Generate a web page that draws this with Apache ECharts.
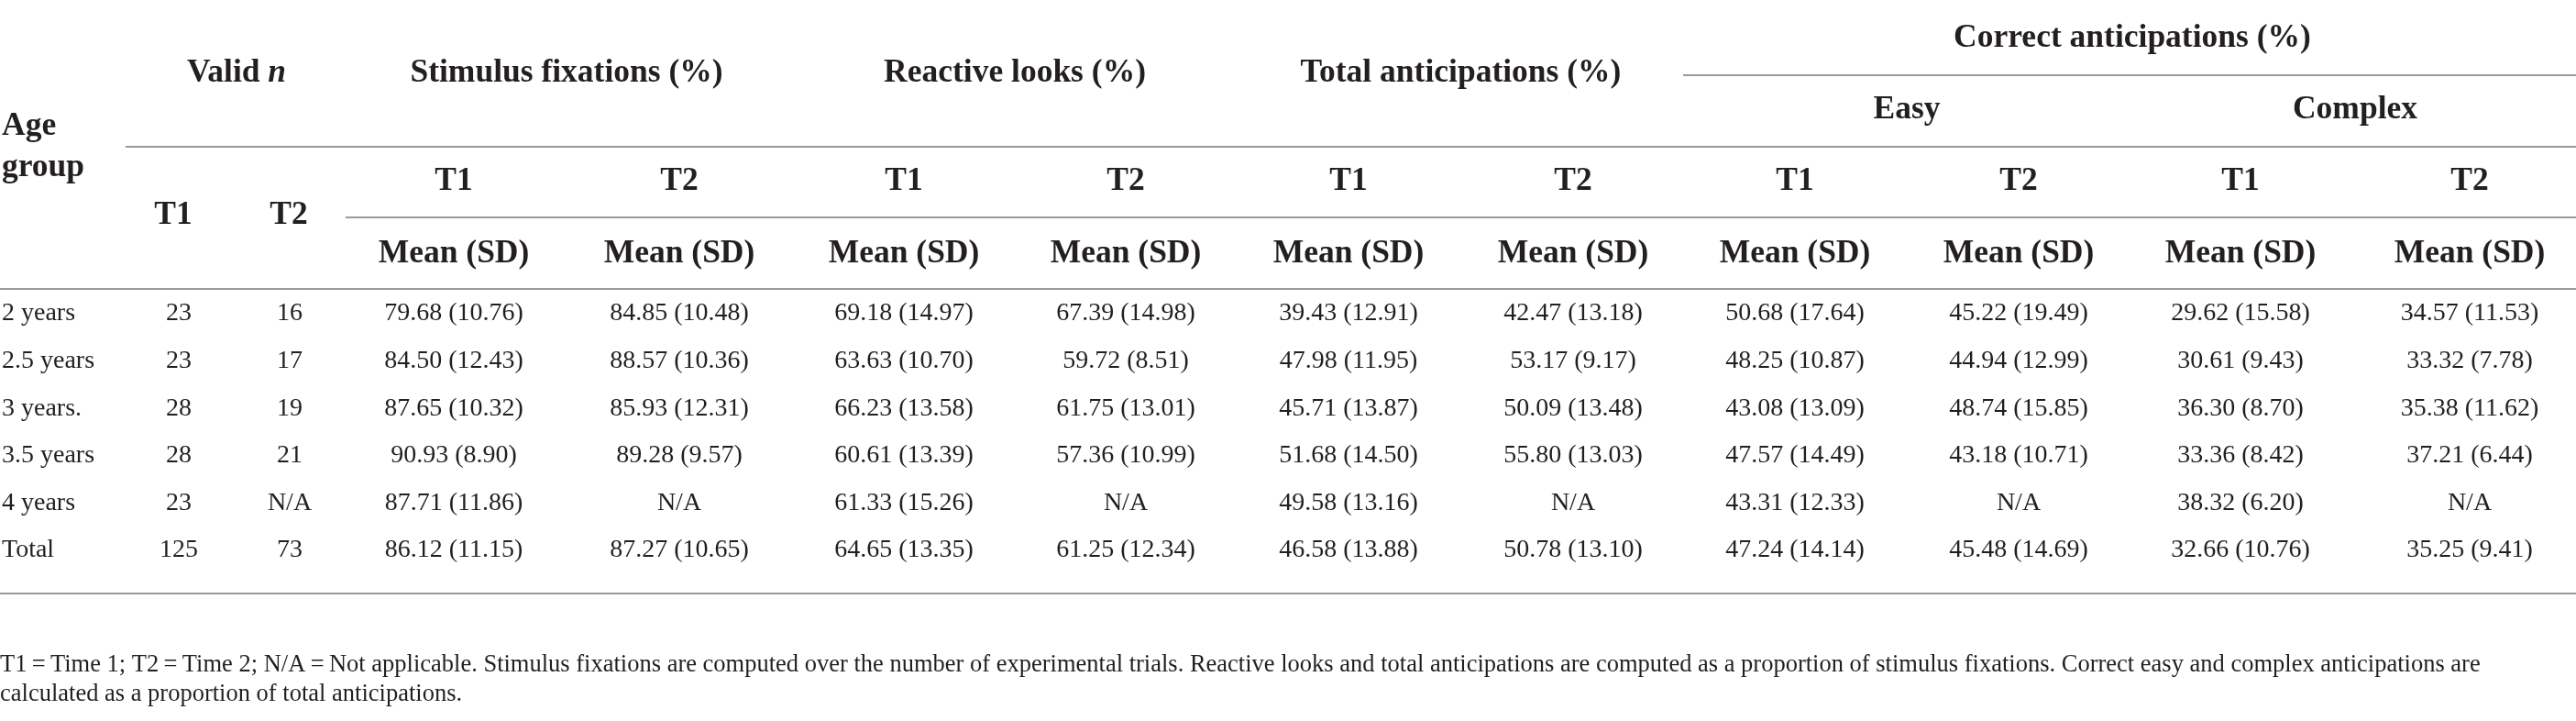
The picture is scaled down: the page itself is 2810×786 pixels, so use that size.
<!DOCTYPE html>
<html><head><meta charset="utf-8">
<script src="https://cdn.jsdelivr.net/npm/echarts@6/dist/echarts.min.js"></script>
<style>html,body{margin:0;padding:0;background:#fff;overflow:hidden}#c{width:2810px;height:786px}</style>
</head><body><div id="c"></div>
<script>
// ---------------- data ----------------
const ageGroups = ['2 years', '2.5 years', '3 years.', '3.5 years', '4 years', 'Total'];
const validT1 = [23, 23, 28, 28, 23, 125];
const validT2 = [16, 17, 19, 21, null, 73];
const stimT1Mean = [79.68, 84.50, 87.65, 90.93, 87.71, 86.12];
const stimT1SD   = [10.76, 12.43, 10.32, 8.90, 11.86, 11.15];
const stimT2Mean = [84.85, 88.57, 85.93, 89.28, null, 87.27];
const stimT2SD   = [10.48, 10.36, 12.31, 9.57, null, 10.65];
const reactT1Mean = [69.18, 63.63, 66.23, 60.61, 61.33, 64.65];
const reactT1SD   = [14.97, 10.70, 13.58, 13.39, 15.26, 13.35];
const reactT2Mean = [67.39, 59.72, 61.75, 57.36, null, 61.25];
const reactT2SD   = [14.98, 8.51, 13.01, 10.99, null, 12.34];
const totalT1Mean = [39.43, 47.98, 45.71, 51.68, 49.58, 46.58];
const totalT1SD   = [12.91, 11.95, 13.87, 14.50, 13.16, 13.88];
const totalT2Mean = [42.47, 53.17, 50.09, 55.80, null, 50.78];
const totalT2SD   = [13.18, 9.17, 13.48, 13.03, null, 13.10];
const easyT1Mean = [50.68, 48.25, 43.08, 47.57, 43.31, 47.24];
const easyT1SD   = [17.64, 10.87, 13.09, 14.49, 12.33, 14.14];
const easyT2Mean = [45.22, 44.94, 48.74, 43.18, null, 45.48];
const easyT2SD   = [19.49, 12.99, 15.85, 10.71, null, 14.69];
const complexT1Mean = [29.62, 30.61, 36.30, 33.36, 38.32, 32.66];
const complexT1SD   = [15.58, 9.43, 8.70, 8.42, 6.20, 10.76];
const complexT2Mean = [34.57, 33.32, 35.38, 37.21, null, 35.25];
const complexT2SD   = [11.53, 7.78, 11.62, 6.44, null, 9.41];

const ageHeader = ['Age', 'group'];
const validHeader = 'Valid';
const validHeaderItalic = 'n';
const measureGroups = ['Stimulus fixations (%)', 'Reactive looks (%)', 'Total anticipations (%)'];
const correctGroup = 'Correct anticipations (%)';
const difficultyLabels = ['Easy', 'Complex'];
const timeLabels = ['T1', 'T2'];
const statLabel = 'Mean (SD)';
const naLabel = 'N/A';
const footnoteLines = [
  'T1\u2009=\u2009Time 1; T2\u2009=\u2009Time 2; N/A\u2009=\u2009Not applicable. Stimulus fixations are computed over the number of experimental trials. Reactive looks and total anticipations are computed as a proportion of stimulus fixations. Correct easy and complex anticipations are',
  'calculated as a proportion of total anticipations.'
];

// ---------------- layout (style only) ----------------
const W = 2810, H = 786;
const FONT = '"Liberation Serif", "DejaVu Serif", serif';
const TEXT = '#231f20';
const RULE = '#9a9a9a';
const colAge = 2;
const colValidHead = [189, 315];
const colValidBody = [195, 316];
const colData = [495, 741, 986, 1228, 1471, 1716, 1958, 2202, 2444, 2694];
const rowY0 = 342, rowStep = 51.6;
const yGroup = 80, yCorrect = 42, yDiff = 120, yTime = 198, yValidTime = 235, yStat = 277;
const yAge = [138, 183];
const footY = [725, 757];
const HEAD_PX = 35.5, BODY_PX = 28, FOOT_PX = 26.5;

const fmt = (m, s) => (m == null ? naLabel : m.toFixed(2) + ' (' + s.toFixed(2) + ')');
const dataCols = [
  [stimT1Mean, stimT1SD], [stimT2Mean, stimT2SD],
  [reactT1Mean, reactT1SD], [reactT2Mean, reactT2SD],
  [totalT1Mean, totalT1SD], [totalT2Mean, totalT2SD],
  [easyT1Mean, easyT1SD], [easyT2Mean, easyT2SD],
  [complexT1Mean, complexT1SD], [complexT2Mean, complexT2SD]
];

const cells = [];
const add = (x, y, text, kind, align) => cells.push({ value: [x, y], text, kind, align: align || 'center' });

// header
add(colAge, yAge[0], ageHeader[0], 'head', 'left');
add(colAge, yAge[1], ageHeader[1], 'head', 'left');
add((colValidHead[0] + colValidHead[1]) / 2 + 6, yGroup, '{b|' + validHeader + ' }{bi|' + validHeaderItalic + '}', 'rich');
measureGroups.forEach((g, i) => add((colData[2 * i] + colData[2 * i + 1]) / 2, yGroup, g, 'head'));
add((colData[6] + colData[9]) / 2, yCorrect, correctGroup, 'head');
difficultyLabels.forEach((d, i) => add((colData[6 + 2 * i] + colData[7 + 2 * i]) / 2, yDiff, d, 'head'));
colValidHead.forEach((x, i) => add(x, yValidTime, timeLabels[i], 'head'));
colData.forEach((x, i) => { add(x, yTime, timeLabels[i % 2], 'head'); add(x, yStat, statLabel, 'head'); });

// body
ageGroups.forEach((a, r) => {
  const y = rowY0 + r * rowStep;
  add(colAge, y, a, 'body', 'left');
  add(colValidBody[0], y, validT1[r] == null ? naLabel : String(validT1[r]), 'body');
  add(colValidBody[1], y, validT2[r] == null ? naLabel : String(validT2[r]), 'body');
  dataCols.forEach((pair, c) => add(colData[c], y, fmt(pair[0][r], pair[1][r]), 'body'));
});

// footnote
footnoteLines.forEach((t, i) => add(0, footY[i], t, 'foot', 'left'));

// rules: [x1, x2, y]
const rules = [
  [1836, W, 82],
  [137, W, 160],
  [377, W, 237],
  [0, W, 315],
  [0, W, 647]
];

const fonts = {
  head: 'bold ' + HEAD_PX + 'px ' + FONT,
  body: BODY_PX + 'px ' + FONT,
  foot: FOOT_PX + 'px ' + FONT
};

const chart = echarts.init(document.getElementById('c'), null, { renderer: 'canvas' });
chart.setOption({
  animation: false,
  backgroundColor: '#fff',
  grid: { left: 0, right: 0, top: 0, bottom: 0 },
  xAxis: { type: 'value', min: 0, max: W, show: false },
  yAxis: { type: 'value', min: 0, max: H, inverse: true, show: false },
  series: [
    {
      type: 'custom',
      name: 'rules',
      data: rules,
      renderItem: (params, api) => {
        const p1 = api.coord([api.value(0), api.value(2)]);
        const p2 = api.coord([api.value(1), api.value(2)]);
        return { type: 'line', shape: { x1: p1[0], y1: p1[1], x2: p2[0], y2: p2[1] }, style: { stroke: RULE, lineWidth: 2 } };
      }
    },
    {
      type: 'custom',
      name: 'cells',
      data: cells.map(c => c.value),
      renderItem: (params, api) => {
        const c = cells[params.dataIndex];
        const p = api.coord([api.value(0), api.value(1)]);
        if (c.kind === 'rich') {
          return {
            type: 'text', x: p[0], y: p[1],
            style: {
              text: c.text, align: 'center', verticalAlign: 'middle', fill: TEXT,
              rich: {
                b: { font: 'bold ' + HEAD_PX + 'px ' + FONT, fill: TEXT },
                bi: { font: 'italic bold ' + HEAD_PX + 'px ' + FONT, fill: TEXT }
              }
            }
          };
        }
        return {
          type: 'text', x: p[0], y: p[1],
          style: { text: c.text, font: fonts[c.kind], fill: TEXT, align: c.align, verticalAlign: 'middle' }
        };
      }
    }
  ]
});
</script></body></html>
